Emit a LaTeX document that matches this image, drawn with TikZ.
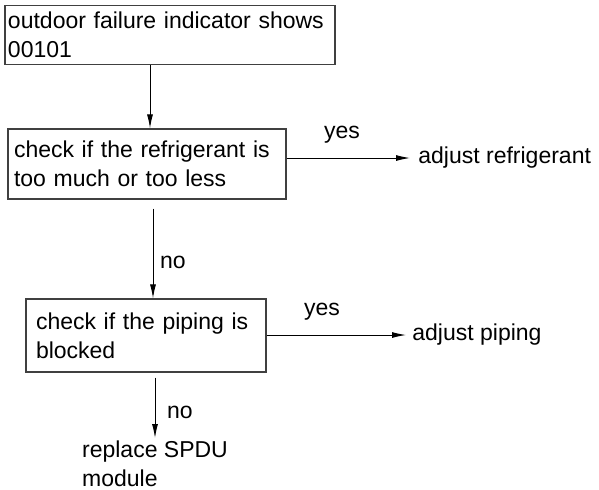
\documentclass[tikz,border=0pt]{standalone}
\usepackage{fontspec}
\setmainfont{Liberation Sans}
\usepackage{tikz}
\usetikzlibrary{positioning, arrows.meta}

\begin{document}
\begin{tikzpicture}[x=0.5pt, y=-0.5pt,
    every node/.style={font=\fontsize{11.5}{14.5}\selectfont},
    box/.style={draw=black!75, line width=0.6pt, align=left},
    arr/.style={line width=0.5pt, -{Latex[length=7pt, width=3pt]}}]
      \useasboundingbox (0,0) rectangle (599,489);
      \node[box, inner xsep=1.5pt, text width=162pt, minimum height=29pt] (fail) at (170,35)
        {outdoor failure indicator shows\\00101};
      \node[box, inner xsep=3pt, text width=133pt, minimum height=35pt] (refr) at (147,164)
        {check if the refrigerant is\\too much or too less};
      \node[box, inner xsep=5pt, text width=110pt, minimum height=36.5pt] (pipe) at (146,335.5)
        {check if the piping is\\blocked};
      \node[anchor=west, inner xsep=4pt] (adjr) at (410,158) {adjust refrigerant};
      \node[anchor=west, inner xsep=3pt] (adjp) at (406,335) {adjust piping};
      \node[anchor=north, align=left, inner sep=1pt] (spdu) at (155,438) {replace SPDU\\module};
      \draw[arr] ([xshift=-10pt]fail.south) -- ([xshift=-10pt]fail.south |- refr.north);
      \draw[arr] ([xshift=3pt, yshift=-4.5pt]refr.south) -- ([xshift=3pt]refr.south |- pipe.north);
      \draw[arr] (refr.east |- adjr.west) -- (adjr.west);
      \draw[arr] (pipe.east |- adjp.west) -- (adjp.west);
      \draw[arr] ([yshift=-2.5pt]pipe.south -| spdu.north) -- (spdu.north);
      % branch labels
      \node (yes1) at (342,135) {yes};
      \node (no1) at (173,262) {no};
      \node (yes2) at (322,312) {yes};
      \node (no2) at (180,412) {no};
    \end{tikzpicture}
\end{document}
